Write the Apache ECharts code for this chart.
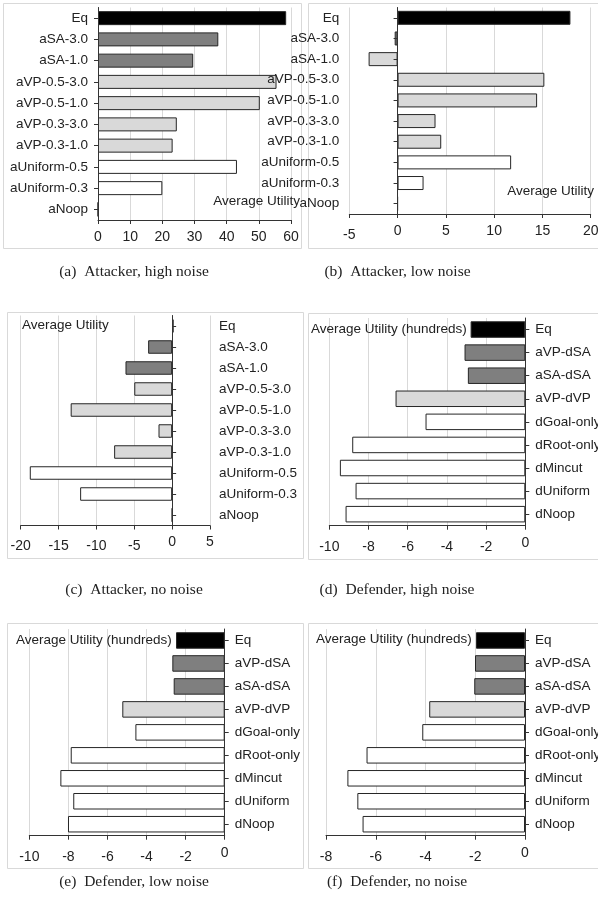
<!DOCTYPE html>
<html><head><meta charset="utf-8">
<script src="https://cdn.jsdelivr.net/npm/echarts@6/dist/echarts.min.js"></script>
<style>html,body{margin:0;padding:0;background:#fff}#c{width:598px;height:909px}</style>
</head><body><div id="c"></div>
<script>
// ---- data ----
const attackerCats = ['Eq','aSA-3.0','aSA-1.0','aVP-0.5-3.0','aVP-0.5-1.0','aVP-0.3-3.0','aVP-0.3-1.0','aUniform-0.5','aUniform-0.3','aNoop'];
const defenderCats = ['Eq','aVP-dSA','aSA-dSA','aVP-dVP','dGoal-only','dRoot-only','dMincut','dUniform','dNoop'];
const attackerHigh = [58.5, 37.4, 29.6, 55.5, 50.3, 24.5, 23.2, 43.2, 20.0, 0];
const attackerLow  = [17.9, -0.3, -3.0, 15.2, 14.45, 3.93, 4.52, 11.76, 2.69, 0];
const attackerNone = [0.2, -3.17, -6.16, -5.0, -13.4, -1.8, -7.66, -18.8, -12.15, 0];
const defenderHigh = [-2.79, -3.1, -2.93, -6.62, -5.09, -8.83, -9.46, -8.66, -9.17];
const defenderLow  = [-2.49, -2.68, -2.61, -5.24, -4.57, -7.88, -8.41, -7.75, -8.02];
const defenderNone = [-1.97, -2.01, -2.04, -3.85, -4.13, -6.37, -7.14, -6.74, -6.53];
const captions = ['(a)  Attacker, high noise','(b)  Attacker, low noise','(c)  Attacker, no noise','(d)  Defender, high noise','(e)  Defender, low noise','(f)  Defender, no noise'];
const axisTitleAtt = 'Average Utility';
const axisTitleDef = 'Average Utility (hundreds)';

// ---- styles ----
const K='#000000', G='#7f7f7f', L='#d9d9d9', Wh='#ffffff';
const fillAtt  = [K,G,G,L,L,L,L,Wh,Wh,Wh];
const fillAttB = [K,G,L,L,L,L,L,Wh,Wh,Wh];
const fillDef  = [K,G,G,L,Wh,Wh,Wh,Wh,Wh];
const SANS='Liberation Sans', SERIF='Liberation Serif';
const AX='#333333';

const panels = [
  {cats:attackerCats, vals:attackerHigh, fill:fillAtt,  min:0,   max:60, iv:10, grid:{left:98,  top:7.5, width:193,   height:212.5}, bw:14,   pos:'left'},
  {cats:attackerCats, vals:attackerLow,  fill:fillAttB, min:-5,  max:20, iv:5,  grid:{left:349.3,top:7.5, width:241.4, height:206.5}, bw:14,   pos:'left'},
  {cats:attackerCats, vals:attackerNone, fill:fillAtt,  min:-20, max:5,  iv:5,  grid:{left:20.7, top:315.5,width:189.3,height:210},   bw:13.5, pos:'split'},
  {cats:defenderCats, vals:defenderHigh, fill:fillDef,  min:-10, max:0,  iv:2,  grid:{left:329.3,top:318, width:196,   height:207.7}, bw:16.5, pos:'right'},
  {cats:defenderCats, vals:defenderLow,  fill:fillDef,  min:-10, max:0,  iv:2,  grid:{left:29.3, top:629, width:195.4, height:206.7}, bw:16.5, pos:'right'},
  {cats:defenderCats, vals:defenderNone, fill:fillDef,  min:-8,  max:0,  iv:2,  grid:{left:326,  top:629, width:199,   height:206.7}, bw:16.5, pos:'right'}
];

const grid=[], xAxis=[], yAxis=[], series=[];
panels.forEach((p,i)=>{
  grid.push(Object.assign({outerBoundsMode:'none', containLabel:false}, p.grid));
  xAxis.push({type:'value', gridIndex:i, min:p.min, max:p.max, interval:p.iv,
    axisLine:{show:true, onZero:false, lineStyle:{color:AX, width:1}},
    axisTick:{show:true, length:4, lineStyle:{color:AX}},
    splitLine:{show:true, lineStyle:{color:'#d9d9d9', width:1}},
    axisLabel:{margin:10, color:'#222', fontFamily:SANS, fontSize:14,
      formatter:v=> v<0 ? '{n|'+v+'}' : '{p|'+v+'}',
      rich:{n:{padding:[4,0,0,0], fontFamily:SANS, fontSize:14, color:'#222'}, p:{fontFamily:SANS, fontSize:14, color:'#222'}}}
  });
  const base = {type:'category', gridIndex:i, data:p.cats, inverse:true, z:5,
    axisLine:{show:true, lineStyle:{color:AX, width:1}},
    axisTick:{show:true, alignWithLabel:true, length:4, lineStyle:{color:AX}},
    axisLabel:{margin:10, color:'#222', fontFamily:SANS, fontSize:13.5},
    splitLine:{show:false}};
  let yIdx = yAxis.length;
  if (p.pos==='split') {
    yAxis.push(Object.assign({}, base, {position:'right', axisLine:{show:true, onZero:true, lineStyle:{color:AX}}, axisLabel:{show:false}}));
    yAxis.push(Object.assign({}, base, {position:'right', axisLine:{show:false, onZero:false}, axisTick:{show:false}, axisLabel:{margin:9, color:'#222', fontFamily:SANS, fontSize:13.5}}));
  } else {
    yAxis.push(Object.assign({}, base, {position:p.pos}));
  }
  series.push({type:'bar', xAxisIndex:i, yAxisIndex:yIdx, data:p.vals, barWidth:p.bw, z:2,
    itemStyle:{color:(prm)=>p.fill[prm.dataIndex], borderColor:'#262626', borderWidth:1},
    emphasis:{disabled:true}, silent:true});
});

const frame=(x,y,w,h)=>({type:'rect', shape:{x:x+0.5,y:y+0.5,width:w,height:h}, style:{fill:null, stroke:'#d9d9d9', lineWidth:1}, z:-1});
const txt=(x,y,s,align,font,size)=>({type:'text', x:x, y:y, z:10, style:{text:s, fill:'#222', font:size+'px "'+font+'"', textAlign:align, textVerticalAlign:'middle'}});

const graphic = [
  frame(3,3,298,245), frame(308,3,300,245),
  frame(7,312,296,246), frame(308,313,300,246),
  frame(7,623,296,245), frame(308,623,300,245),
  txt(300,201.7,axisTitleAtt,'right',SANS,13.5),
  txt(594,191.7,axisTitleAtt,'right',SANS,13.5),
  txt(22,325,axisTitleAtt,'left',SANS,13.5),
  txt(311,329.3,axisTitleDef,'left',SANS,13.5),
  txt(16,640,axisTitleDef,'left',SANS,13.5),
  txt(316,639.3,axisTitleDef,'left',SANS,13.5),
  txt(134,272,captions[0],'center',SERIF,15.5),
  txt(397.5,272,captions[1],'center',SERIF,15.5),
  txt(134,590,captions[2],'center',SERIF,15.5),
  txt(397,590,captions[3],'center',SERIF,15.5),
  txt(134,882,captions[4],'center',SERIF,15.5),
  txt(397,882,captions[5],'center',SERIF,15.5)
];

const chart = echarts.init(document.getElementById('c'), null, {renderer:'canvas', width:598, height:909});
chart.setOption({animation:false, backgroundColor:'#fff', grid, xAxis, yAxis, series, graphic});
</script></body></html>
